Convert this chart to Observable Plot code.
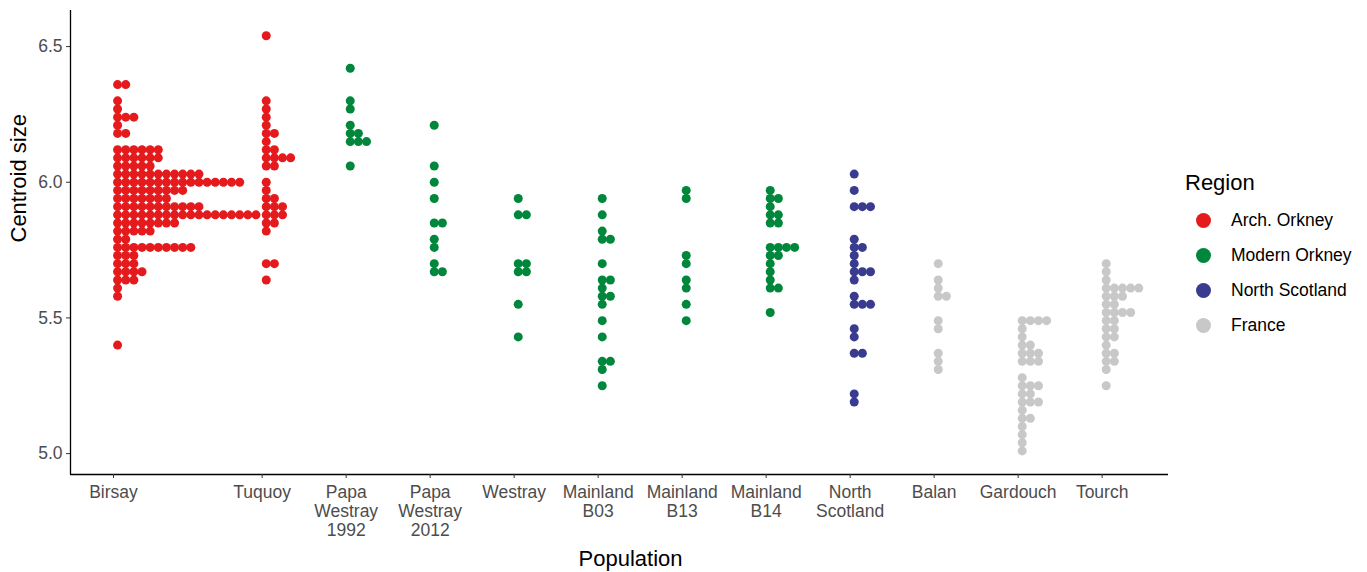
<!DOCTYPE html>
<html>
<head>
<meta charset="utf-8">
<script src="https://cdn.jsdelivr.net/npm/d3@7"></script>
<script src="https://cdn.jsdelivr.net/npm/@observablehq/plot@0.6"></script>
<style>
  html, body { margin: 0; padding: 0; background: #fff; }
  body { font-family: "Liberation Sans", Arial, sans-serif; }
  #wrap { position: relative; width: 1367px; height: 572px; overflow: hidden; }
  #legend { position: absolute; left: 0; top: 0; width: 0; height: 0; }
  .lg-title { position: absolute; left: 1185px; top: 171px; font-size: 22px; line-height: 24px; color: #000; white-space: nowrap; }
  .lg-item { position: absolute; left: 1196px; height: 24px; display: flex; align-items: center; white-space: nowrap; }
  .lg-dot { width: 15px; height: 15px; border-radius: 50%; margin-right: 20px; }
  .lg-label { font-size: 17.5px; color: #000; }
</style>
</head>
<body>
<div id="wrap"><div id="chart"></div><div id="legend"></div></div>
<script>
// ---- categories ----
const populations = ["Birsay", "Tuquoy", "Papa\nWestray\n1992", "Papa\nWestray\n2012", "Westray",
  "Mainland\nB03", "Mainland\nB13", "Mainland\nB14", "North\nScotland", "Balan", "Gardouch", "Tourch"];
const populationRegion = ["Arch. Orkney", "Arch. Orkney", "Modern Orkney", "Modern Orkney", "Modern Orkney",
  "Modern Orkney", "Modern Orkney", "Modern Orkney", "North Scotland", "France", "France", "France"];
const axisSlots = [0, 1.77, 2.77, 3.77, 4.77, 5.77, 6.77, 7.77, 8.77, 9.77, 10.77, 11.77];
const regions = ["Arch. Orkney", "Modern Orkney", "North Scotland", "France"];
const regionColors = ["#e41a1c", "#00873c", "#393b8e", "#c8c8c8"];
const yTicks = [5.0, 5.5, 6.0, 6.5];
const binWidth = 0.03;

// ---- binned centroid sizes (row value, number of dots in row) ----
const birsayBins   = [6.36, 6.30, 6.27, 6.24, 6.21, 6.18, 6.12, 6.09, 6.06, 6.03, 6.00, 5.97, 5.94, 5.91, 5.88, 5.85, 5.82, 5.79, 5.76, 5.73, 5.70, 5.67, 5.64, 5.61, 5.58, 5.40];
const birsayCounts = [2, 1, 1, 3, 1, 2, 6, 6, 5, 11, 16, 9, 7, 11, 18, 8, 5, 2, 10, 3, 3, 4, 3, 1, 1, 1];
const tuquoyBins   = [6.54, 6.30, 6.27, 6.24, 6.21, 6.18, 6.15, 6.12, 6.09, 6.06, 6.00, 5.97, 5.94, 5.91, 5.88, 5.85, 5.82, 5.70, 5.64];
const tuquoyCounts = [1, 1, 1, 1, 1, 2, 1, 2, 4, 2, 1, 1, 2, 3, 3, 2, 1, 2, 1];
const papa1992Bins   = [6.42, 6.30, 6.27, 6.21, 6.18, 6.15, 6.06];
const papa1992Counts = [1, 1, 1, 1, 2, 3, 1];
const papa2012Bins   = [6.21, 6.06, 6.00, 5.94, 5.85, 5.79, 5.76, 5.70, 5.67];
const papa2012Counts = [1, 1, 1, 1, 2, 1, 1, 1, 2];
const westrayBins   = [5.94, 5.88, 5.70, 5.67, 5.55, 5.43];
const westrayCounts = [1, 2, 2, 2, 1, 1];
const b03Bins   = [5.94, 5.88, 5.82, 5.79, 5.70, 5.64, 5.61, 5.58, 5.55, 5.49, 5.43, 5.34, 5.31, 5.25];
const b03Counts = [1, 1, 1, 2, 1, 2, 1, 2, 1, 1, 1, 2, 1, 1];
const b13Bins   = [5.97, 5.94, 5.73, 5.70, 5.64, 5.61, 5.55, 5.49];
const b13Counts = [1, 1, 1, 1, 1, 1, 1, 1];
const b14Bins   = [5.97, 5.94, 5.91, 5.88, 5.85, 5.76, 5.73, 5.70, 5.67, 5.64, 5.61, 5.52];
const b14Counts = [1, 2, 1, 2, 2, 4, 2, 1, 1, 1, 2, 1];
const northScotBins   = [6.03, 5.97, 5.91, 5.79, 5.76, 5.73, 5.70, 5.67, 5.64, 5.58, 5.55, 5.46, 5.43, 5.37, 5.22, 5.19];
const northScotCounts = [1, 1, 3, 1, 2, 1, 1, 3, 1, 1, 3, 1, 1, 2, 1, 1];
const balanBins   = [5.70, 5.64, 5.61, 5.58, 5.49, 5.46, 5.37, 5.34, 5.31];
const balanCounts = [1, 1, 1, 2, 1, 1, 1, 1, 1];
const gardouchBins   = [5.49, 5.46, 5.43, 5.40, 5.37, 5.34, 5.28, 5.25, 5.22, 5.19, 5.16, 5.13, 5.10, 5.07, 5.04, 5.01];
const gardouchCounts = [4, 1, 1, 2, 3, 3, 1, 3, 2, 3, 1, 2, 1, 1, 1, 1];
const tourchBins   = [5.70, 5.67, 5.64, 5.61, 5.58, 5.55, 5.52, 5.49, 5.46, 5.43, 5.40, 5.37, 5.34, 5.31, 5.25];
const tourchCounts = [1, 1, 1, 5, 3, 2, 4, 2, 2, 2, 1, 2, 2, 1, 1];

const binsByPop = [birsayBins, tuquoyBins, papa1992Bins, papa2012Bins, westrayBins, b03Bins, b13Bins, b14Bins, northScotBins, balanBins, gardouchBins, tourchBins];
const countsByPop = [birsayCounts, tuquoyCounts, papa1992Counts, papa2012Counts, westrayCounts, b03Counts, b13Counts, b14Counts, northScotCounts, balanCounts, gardouchCounts, tourchCounts];

// ---- layout ----
const W = 1367, H = 572;
const mL = 70, mR = 199, mT = 10, mB = 98;
const xDomain = [-0.512, 12.56];
const yDomain = [4.923, 6.633];
const pxPerX = (W - mL - mR) / (xDomain[1] - xDomain[0]);
const pxPerY = (H - mT - mB) / (yDomain[1] - yDomain[0]);
const stepX = binWidth * pxPerY / pxPerX; // dot diameter expressed in x units (stack to the right)

const dots = [];
populations.forEach((p, i) => {
  binsByPop[i].forEach((v, j) => {
    for (let k = 0; k < countsByPop[i][j]; k++) {
      dots.push({pop: p, region: populationRegion[i], y: v, x: axisSlots[i] + (k + 0.5) * stepX});
    }
  });
});

const font = "Liberation Sans, Arial, sans-serif";
const chart = Plot.plot({
  width: W, height: H,
  marginLeft: mL, marginRight: mR, marginTop: mT, marginBottom: mB,
  style: {fontFamily: font, fontSize: "17.5px", background: "white", color: "black", overflow: "visible"},
  x: {type: "linear", domain: xDomain, axis: null},
  y: {type: "linear", domain: yDomain, axis: null},
  color: {domain: regions, range: regionColors},
  marks: [
    Plot.dot(dots, {x: "x", y: "y", fill: "region", r: 4.5}),
    Plot.ruleX([xDomain[0]], {stroke: "black", strokeWidth: 1.3}),
    Plot.ruleY([yDomain[0]], {stroke: "black", strokeWidth: 1.3}),
    Plot.axisY(yTicks, {tickSize: 4, tickPadding: 4, tickFormat: d3.format(".1f"), color: "#4d4d4d", stroke: "#333", fontSize: 17.5, label: null}),
    Plot.axisX(axisSlots, {tickSize: 4, tickPadding: 6, tickFormat: d => populations[axisSlots.indexOf(d)], lineHeight: 1.09, color: "#4d4d4d", stroke: "#333", fontSize: 17.5, label: null}),
    Plot.text(["Population"], {text: d => d, frameAnchor: "bottom", dy: 84, dx: 11, fontSize: 22, fill: "black", lineAnchor: "middle"}),
    Plot.text(["Centroid size"], {text: d => d, frameAnchor: "left", rotate: -90, dx: -52, fontSize: 22, fill: "black", lineAnchor: "middle"})
  ]
});
document.getElementById("chart").appendChild(chart);

// ---- legend (right side) ----
const legend = document.getElementById("legend");
const t = document.createElement("div");
t.className = "lg-title";
t.textContent = "Region";
legend.appendChild(t);
regions.forEach((r, i) => {
  const item = document.createElement("div");
  item.className = "lg-item";
  item.style.top = (208 + i * 35) + "px";
  const d = document.createElement("div");
  d.className = "lg-dot";
  d.style.background = regionColors[i];
  const l = document.createElement("span");
  l.className = "lg-label";
  l.textContent = r;
  item.appendChild(d);
  item.appendChild(l);
  legend.appendChild(item);
});
</script>
</body>
</html>
